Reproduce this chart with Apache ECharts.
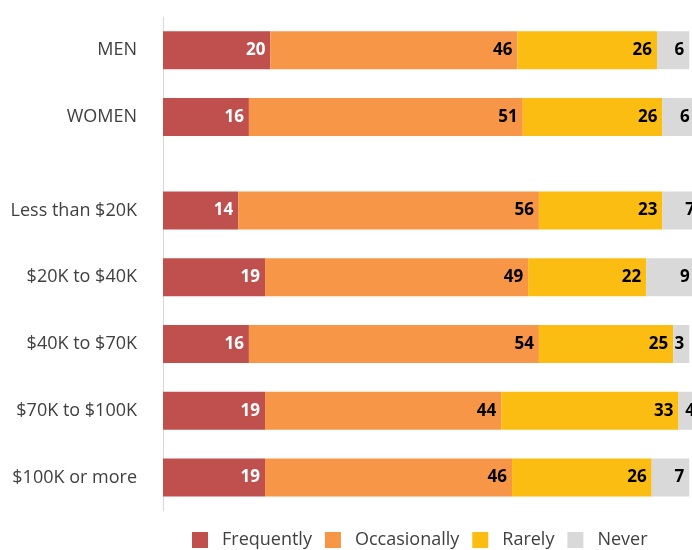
<!DOCTYPE html>
<html>
<head>
<meta charset="utf-8">
<script src="https://cdn.jsdelivr.net/npm/echarts@6/dist/echarts.min.js"></script>
<style>
  html, body { margin: 0; padding: 0; background: #fff; }
  #chart { width: 692px; height: 550px; }
</style>
</head>
<body>
<div id="chart"></div>
<script>
// gender group (top block)
const genderCats = ["MEN", "WOMEN"];
// income group (bottom block)
const incomeCats = ["Less than $20K", "$20K to $40K", "$40K to $70K", "$70K to $100K", "$100K or more"];

const seriesNames = ["Frequently", "Occasionally", "Rarely", "Never"];

const genderFrequently = [20, 16];
const genderOccasionally = [46, 51];
const genderRarely = [26, 26];
const genderNever = [6, 6];

const incomeFrequently = [14, 19, 16, 19, 19];
const incomeOccasionally = [56, 49, 54, 44, 46];
const incomeRarely = [23, 22, 25, 33, 26];
const incomeNever = [7, 9, 3, 4, 7];

const colors = ["#C0504D", "#F79646", "#FBBD12", "#D9D9D9"];
const labelColors = ["#ffffff", "#000000", "#000000", "#000000"];

const chart = echarts.init(document.getElementById("chart"));

const genderData = [genderFrequently, genderOccasionally, genderRarely, genderNever];
const incomeData = [incomeFrequently, incomeOccasionally, incomeRarely, incomeNever];

function makeSeries(dataSets, axisIndex, stackName) {
  return dataSets.map((d, i) => ({
    name: seriesNames[i],
    type: "bar",
    stack: stackName,
    xAxisIndex: axisIndex,
    yAxisIndex: axisIndex,
    barWidth: 38,
    itemStyle: { color: colors[i] },
    label: {
      show: true,
      position: "insideRight",
      distance: 5,
      color: labelColors[i],
      fontFamily: "Open Sans",
      fontWeight: "bold",
      fontSize: 17,
    },
    emphasis: { disabled: true },
    data: d,
  }));
}

const axisLabelStyle = {
  color: "#404040",
  fontFamily: "Open Sans",
  fontSize: 18,
  margin: 26,
};

const option = {
  animation: false,
  textStyle: { fontFamily: "Open Sans" },
  legend: {
    data: seriesNames,
    top: 531,
    left: 192,
    padding: 0,
    itemWidth: 16,
    itemHeight: 16,
    itemGap: 13,
    icon: "rect",
    textStyle: { color: "#404040", fontSize: 18, fontFamily: "Open Sans", padding: [0, 0, 0, 9] },
  },
  grid: [
    { left: 163, width: 537, top: 17, height: 200, outerBoundsMode: "none" },
    { left: 163, width: 537, top: 177, height: 334, outerBoundsMode: "none" },
  ],
  xAxis: [
    { type: "value", gridIndex: 0, min: 0, max: 100, show: false },
    { type: "value", gridIndex: 1, min: 0, max: 100, show: false },
  ],
  yAxis: [
    {
      type: "category",
      gridIndex: 0,
      data: genderCats,
      inverse: true,
      max: 2,
      axisLine: { lineStyle: { color: "#D9D9D9", width: 1 } },
      axisTick: { show: false },
      axisLabel: axisLabelStyle,
    },
    {
      type: "category",
      gridIndex: 1,
      data: incomeCats,
      inverse: true,
      axisLine: { lineStyle: { color: "#D9D9D9", width: 1 } },
      axisTick: { show: false },
      axisLabel: axisLabelStyle,
    },
  ],
  series: [
    ...makeSeries(genderData, 0, "gender"),
    ...makeSeries(incomeData, 1, "income"),
  ],
};

chart.setOption(option);
</script>
</body>
</html>
